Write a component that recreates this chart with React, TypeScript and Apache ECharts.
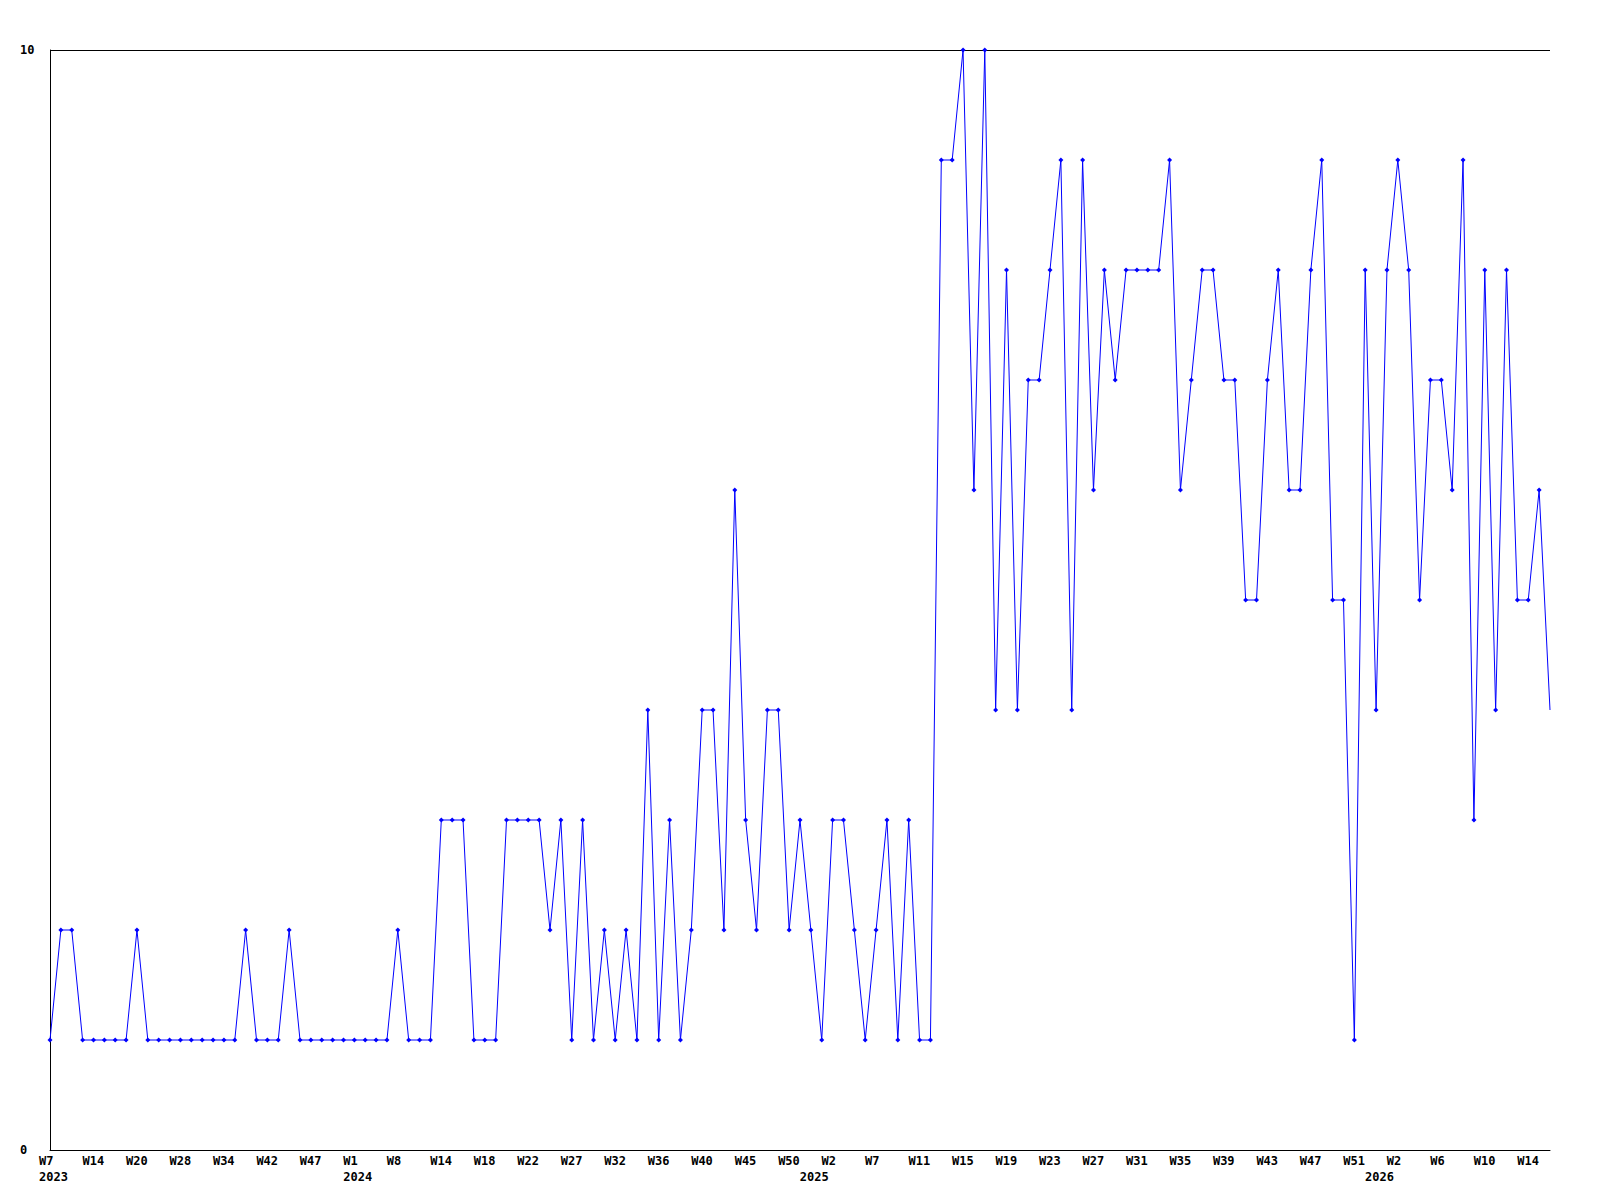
import React, { useEffect, useRef } from "react";
import * as echarts from "echarts";

// Weekly values, one per plotted week (oldest first)
const values: number[] = [
  1, 2, 2, 1, 1, 1, 1, 1, 2, 1,
  1, 1, 1, 1, 1, 1, 1, 1, 2, 1,
  1, 1, 2, 1, 1, 1, 1, 1, 1, 1,
  1, 1, 2, 1, 1, 1, 3, 3, 3, 1,
  1, 1, 3, 3, 3, 3, 2, 3, 1, 3,
  1, 2, 1, 2, 1, 4, 1, 3, 1, 2,
  4, 4, 2, 6, 3, 2, 4, 4, 2, 3,
  2, 1, 3, 3, 2, 1, 2, 3, 1, 3,
  1, 1, 9, 9, 10, 6, 10, 4, 8, 4,
  7, 7, 8, 9, 4, 9, 6, 8, 7, 8,
  8, 8, 8, 9, 6, 7, 8, 8, 7, 7,
  5, 5, 7, 8, 6, 6, 8, 9, 5, 5,
  1, 8, 4, 8, 9, 8, 5, 7, 7, 6,
  9, 3, 8, 4, 8, 5, 5, 6, 4,
];

// Week tick labels, shown on every 4th category
const weekTicks: string[] = [
  "W7", "W14", "W20", "W28", "W34", "W42", "W47",
  "W1", "W8", "W14", "W18", "W22", "W27", "W32", "W36", "W40", "W45", "W50",
  "W2", "W7", "W11", "W15", "W19", "W23", "W27", "W31", "W35", "W39", "W43", "W47", "W51",
  "W2", "W6", "W10", "W14",
];
const tickEvery = 4;
// Year labels and the category (week) where each year begins
const yearLabels: string[] = ["2023", "2024", "2025", "2026"];
const yearCategoryIndex: number[] = [0, 28, 70, 122];

const yTicks: number[] = [0, 10];

const categories = values.map((_, i) => String(i));

export default function App() {
  const ref = useRef<HTMLDivElement>(null);
  useEffect(() => {
    if (!ref.current) return;
    const chart = echarts.init(ref.current, undefined, { renderer: "svg" });
    const font = "DejaVu Sans Mono";
    chart.setOption({
      animation: false,
      backgroundColor: "#ffffff",
      grid: { left: 50, right: 50, top: 50, bottom: 50, containLabel: false },
      xAxis: {
        type: "category",
        data: categories,
        boundaryGap: false,
        axisLine: { show: true, lineStyle: { color: "#000000", width: 1 } },
        axisTick: { show: false },
        splitLine: { show: false },
        axisLabel: {
          interval: (i: number) =>
            i % tickEvery === 0 || yearCategoryIndex.indexOf(i) >= 0,
          formatter: (_v: string, i: number) => {
            const w = i % tickEvery === 0 ? weekTicks[i / tickEvery] ?? "" : "";
            const yi = yearCategoryIndex.indexOf(i);
            return yi >= 0 ? w + "\n" + yearLabels[yi] : w;
          },
          align: "left",
          padding: [0, 0, 0, -11],
          margin: 3,
          lineHeight: 16,
          color: "#000000",
          fontFamily: font,
          fontWeight: "bold",
          fontSize: 12,
        },
      },
      yAxis: {
        type: "value",
        min: yTicks[0],
        max: yTicks[yTicks.length - 1],
        interval: yTicks[1] - yTicks[0],
        axisLine: { show: true, lineStyle: { color: "#000000", width: 1 } },
        axisTick: { show: false },
        splitLine: { show: true, lineStyle: { color: "#000000", width: 1 } },
        axisLabel: {
          align: "left",
          margin: 30,
          color: "#000000",
          fontFamily: font,
          fontWeight: "bold",
          fontSize: 12,
        },
      },
      series: [
        {
          type: "line",
          data: values.map((v, i) =>
            i === values.length - 1 ? { value: v, symbol: "none" } : v
          ),
          symbol: "diamond",
          symbolSize: 5,
          showAllSymbol: true,
          lineStyle: { color: "#0000ff", width: 1 },
          itemStyle: { color: "#0000ff" },
          emphasis: { disabled: true },
        },
      ],
    });
    return () => chart.dispose();
  }, []);
  return (
    <div
      ref={ref}
      style={{ position: "absolute", left: 0, top: 0, width: 1600, height: 1200 }}
    />
  );
}
